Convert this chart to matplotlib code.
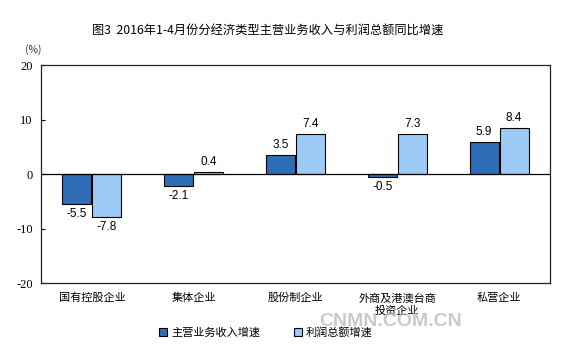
import matplotlib
matplotlib.use("Agg")
import matplotlib.pyplot as plt
import numpy as np

plt.rcParams['font.family'] = ['Noto Sans CJK SC', 'DejaVu Sans']

categories = ["国有控股企业", "集体企业", "股份制企业", "外商及港澳台商\n投资企业", "私营企业"]
revenue = [-5.5, -2.1, 3.5, -0.5, 5.9]
profit = [-7.8, 0.4, 7.4, 7.3, 8.4]
series_names = ["主营业务收入增速", "利润总额增速"]
yticks = [-20, -10, 0, 10, 20]

dark = "#2F6DB8"
light = "#9DCBF8"

fig = plt.figure(figsize=(5.81, 3.56), dpi=100)
ax = fig.add_axes([0.0706, 0.205, 0.876, 0.612])

x = np.arange(len(categories))
w = 0.285
b1 = ax.bar(x - w / 2 - 0.005, revenue, w, color=dark, edgecolor="black", linewidth=0.8, label=series_names[0])
b2 = ax.bar(x + w / 2 + 0.005, profit, w, color=light, edgecolor="black", linewidth=0.8, label=series_names[1])

for bars, vals in [(b1, revenue), (b2, profit)]:
    for bar, v in zip(bars, vals):
        cx = bar.get_x() + bar.get_width() / 2
        if v >= 0:
            ax.annotate(f"{v:.1f}", (cx, v), xytext=(0, 3), textcoords="offset points",
                        ha="center", va="bottom", fontsize=8.5, family="Liberation Sans")
        else:
            ax.annotate(f"{v:.1f}", (cx, v), xytext=(0, -3), textcoords="offset points",
                        ha="center", va="top", fontsize=8.5, family="Liberation Sans")

ax.axhline(0, color="black", linewidth=0.9)
ax.set_xlim(-0.5, len(categories) - 0.5)
ax.set_ylim(-20, 20)
ax.set_yticks(yticks)
ax.set_yticklabels([str(t) for t in yticks], family="Liberation Serif", fontsize=9)
ax.tick_params(axis="y", direction="in", length=3, width=0.8, pad=6)
ax.set_xticks(x)
ax.set_xticklabels(categories, fontsize=8, linespacing=1.35)
ax.tick_params(axis="x", length=0, pad=7)
for s in ax.spines.values():
    s.set_linewidth(0.9)
    s.set_color("#222222")

fig.text(0.461, 0.915, "图3  2016年1-4月份分经济类型主营业务收入与利润总额同比增速",
         ha="center", va="center", fontsize=8.8)
fig.text(0.043, 0.86, "(%)", ha="left", va="center", fontsize=7.5, color="#333333")

# site watermark, faint like in the source image
fig.text(0.673, 0.098, "CNMN.COM.CN", ha="center", va="center", fontsize=14,
         fontweight="bold", color="#b8b8b8", alpha=0.75, family="Liberation Sans")

fig.legend(handles=[b1, b2], labels=series_names, loc="center", bbox_to_anchor=(0.458, 0.065),
           ncol=2, frameon=False, fontsize=8, handlelength=0.7, handleheight=0.7,
           handletextpad=0.4, columnspacing=3.0)

fig.savefig("out.png", dpi=100)
